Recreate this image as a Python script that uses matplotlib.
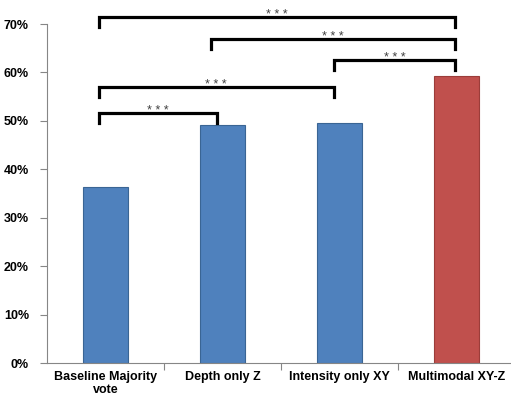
import matplotlib.pyplot as plt

categories = ["Baseline Majority\nvote", "Depth only Z", "Intensity only XY", "Multimodal XY-Z"]
accuracy = [36.3, 49.1, 49.6, 59.3]
bar_colors = ["#4F81BD", "#4F81BD", "#4F81BD", "#C0504D"]
edge_colors = ["#3A6594", "#3A6594", "#3A6594", "#9B3D3A"]

# significance brackets: (bar a, bar b, bracket height %, label)
sig_pairs = [(0, 1, 51.7, "* * *"),
             (0, 2, 57.0, "* * *"),
             (2, 3, 62.6, "* * *"),
             (1, 3, 66.9, "* * *"),
             (0, 3, 71.5, "* * *")]
# small left/right shifts of the bracket ends (as seen in the figure)
sig_offsets = [(-0.06, -0.05), (-0.06, -0.05), (-0.05, -0.01), (-0.10, -0.01), (-0.06, -0.01)]

plt.rcParams['font.family'] = ['Liberation Sans', 'DejaVu Sans']

fig = plt.figure(figsize=(5.11, 3.99), dpi=100)
ax = fig.add_axes([0.092, 0.0902, 0.916, 0.8496])

x = range(len(categories))
ax.bar(x, accuracy, width=0.39, color=bar_colors, edgecolor=edge_colors, linewidth=0.8, zorder=2)

ax.set_xlim(-0.5, 3.5)
ax.set_ylim(0, 70)
ax.set_yticks(range(0, 71, 10))
ax.set_yticklabels([f"{v}%" for v in range(0, 71, 10)], fontsize=9, fontweight="bold")
ax.set_xticks(list(x))
ax.set_xticklabels(categories, fontsize=9, fontweight="bold", linespacing=1.05)
ax.tick_params(axis="x", length=0, pad=6)
ax.set_xticks([0.5, 1.5, 2.5], minor=True)
ax.tick_params(axis="x", which="minor", length=5, color="#868686", width=0.8)
ax.tick_params(axis="y", length=5, color="#868686", width=0.8, pad=8)

for s in ["top", "right"]:
    ax.spines[s].set_visible(False)
for s in ["left", "bottom"]:
    ax.spines[s].set_color("#868686")
    ax.spines[s].set_linewidth(0.8)

leg = 2.1
for (a, b, h, lab), (oa, ob) in zip(sig_pairs, sig_offsets):
    xa, xb = a + oa, b + ob
    ax.plot([xa, xa, xb, xb], [h - leg, h, h, h - leg], color="black", lw=2.3,
            clip_on=False, solid_joinstyle="miter", zorder=3)
    ax.text((xa + xb) / 2, h + 0.4, lab, ha="center", va="center", fontsize=9,
            color="#404040")

fig.savefig("out.png", dpi=100)
